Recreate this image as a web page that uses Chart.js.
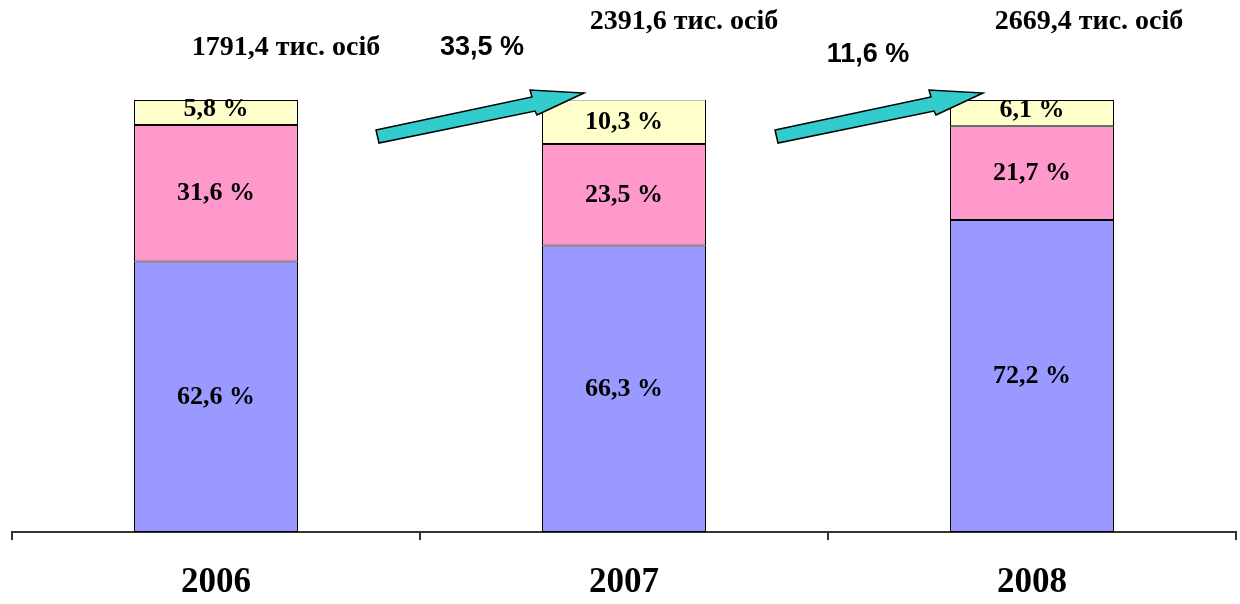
<!DOCTYPE html>
<html>
<head>
<meta charset="utf-8">
<script src="https://cdn.jsdelivr.net/npm/chart.js@4"></script>
<style>
  html, body { margin: 0; padding: 0; background: #fff; }
  #wrap { width: 1240px; height: 604px; }
</style>
</head>
<body>
<div id="wrap"><canvas id="chart" width="1240" height="604"></canvas></div>
<script>
// data
const years = ['2006', '2007', '2008'];
const shareBlue = [62.6, 66.3, 72.2];
const sharePink = [31.6, 23.5, 21.7];
const shareYellow = [5.8, 10.3, 6.1];
const totals = ['1791,4', '2391,6', '2669,4'];
const growth = ['33,5', '11,6'];

function fmt(v) {
    return v.toFixed(1).replace('.', ',') + ' %';
}

// labels inside each segment
const segLabels = {
    id: 'segLabels',
    afterDatasetsDraw(chart) {
        const ctx = chart.ctx;
        ctx.save();
        ctx.font = 'bold 26px "Liberation Serif"';
        ctx.fillStyle = '#000';
        ctx.textAlign = 'center';
        ctx.textBaseline = 'middle';
        chart.data.datasets.forEach((ds, di) => {
            chart.getDatasetMeta(di).data.forEach((bar, i) => {
                let y = (bar.y + bar.base) / 2;
                if (Math.abs(bar.base - bar.y) < 30) y -= 3;
                ctx.fillText(fmt(ds.data[i]), bar.x, y);
            });
        });
        ctx.restore();
    }
};

// totals, growth and the teal arrows
const extras = {
    id: 'extras',
    afterDraw(chart) {
        const ctx = chart.ctx;
        const xs = chart.scales.x;
        const top = chart.scales.y.getPixelForValue(100);
        ctx.save();

        // arrows between bars
        const tipOff = [-40, -49];
        for (let i = 0; i < growth.length; i++) {
            const tx = xs.getPixelForValue(i + 1) + tipOff[i];
            const ty = top - 7;
            const pts = [[-208, 37], [-52, 4], [-54, -3], [0, 0], [-47, 22], [-49, 18], [-205, 50]];
            ctx.beginPath();
            pts.forEach((p, k) => {
                if (k === 0) ctx.moveTo(tx + p[0], ty + p[1]);
                else ctx.lineTo(tx + p[0], ty + p[1]);
            });
            ctx.closePath();
            ctx.fillStyle = '#33CCCC';
            ctx.fill();
            ctx.lineWidth = 1.5;
            ctx.strokeStyle = '#000';
            ctx.stroke();
        }

        ctx.fillStyle = '#000';
        ctx.textAlign = 'center';
        ctx.textBaseline = 'middle';

        // totals over bars
        ctx.font = 'bold 28px "Liberation Serif"';
        const totOff = [[70, -52], [60, -78], [57, -78]];
        totals.forEach((t, i) => {
            const x = xs.getPixelForValue(i) + totOff[i][0];
            ctx.fillText(t + ' тис. осіб', x, top + totOff[i][1]);
        });

        // growth between bars
        ctx.font = 'bold 27px "Liberation Sans"';
        const grOff = [[62, -52], [40, -45]];
        growth.forEach((g, i) => {
            const x = (xs.getPixelForValue(i) + xs.getPixelForValue(i + 1)) / 2 + grOff[i][0];
            ctx.fillText(g + ' %', x, top + grOff[i][1]);
        });
        ctx.restore();
    }
};

const data = {
    labels: years,
    datasets: [
        { data: shareBlue, backgroundColor: '#9999FF' },
        { data: sharePink, backgroundColor: '#FF99CC' },
        { data: shareYellow, backgroundColor: '#FFFFCC' }
    ].map(d => Object.assign(d, {
        borderColor: '#000',
        borderWidth: 1,
        borderSkipped: false,
        categoryPercentage: 1,
        barPercentage: 0.402
    }))
};

const config = {
    type: 'bar',
    data: data,
    options: {
        responsive: false,
        animation: false,
        layout: { padding: { left: 12, right: 4, top: 100, bottom: -22 } },
        plugins: { legend: { display: false }, tooltip: { enabled: false } },
        scales: {
            x: {
                stacked: true,
                grid: {
                    offset: true,
                    drawOnChartArea: false,
                    tickLength: 8,
                    color: '#333',
                    lineWidth: 2
                },
                border: { color: '#333', width: 2 },
                ticks: {
                    color: '#000',
                    padding: 22,
                    font: { family: '"Liberation Serif"', size: 35, weight: 'bold' }
                }
            },
            y: {
                stacked: true,
                display: false,
                min: 0,
                max: 100
            }
        }
    },
    plugins: [segLabels, extras]
};

var ctx = document.getElementById('chart').getContext('2d');
var myChart = new Chart(ctx, config);
</script>
</body>
</html>
